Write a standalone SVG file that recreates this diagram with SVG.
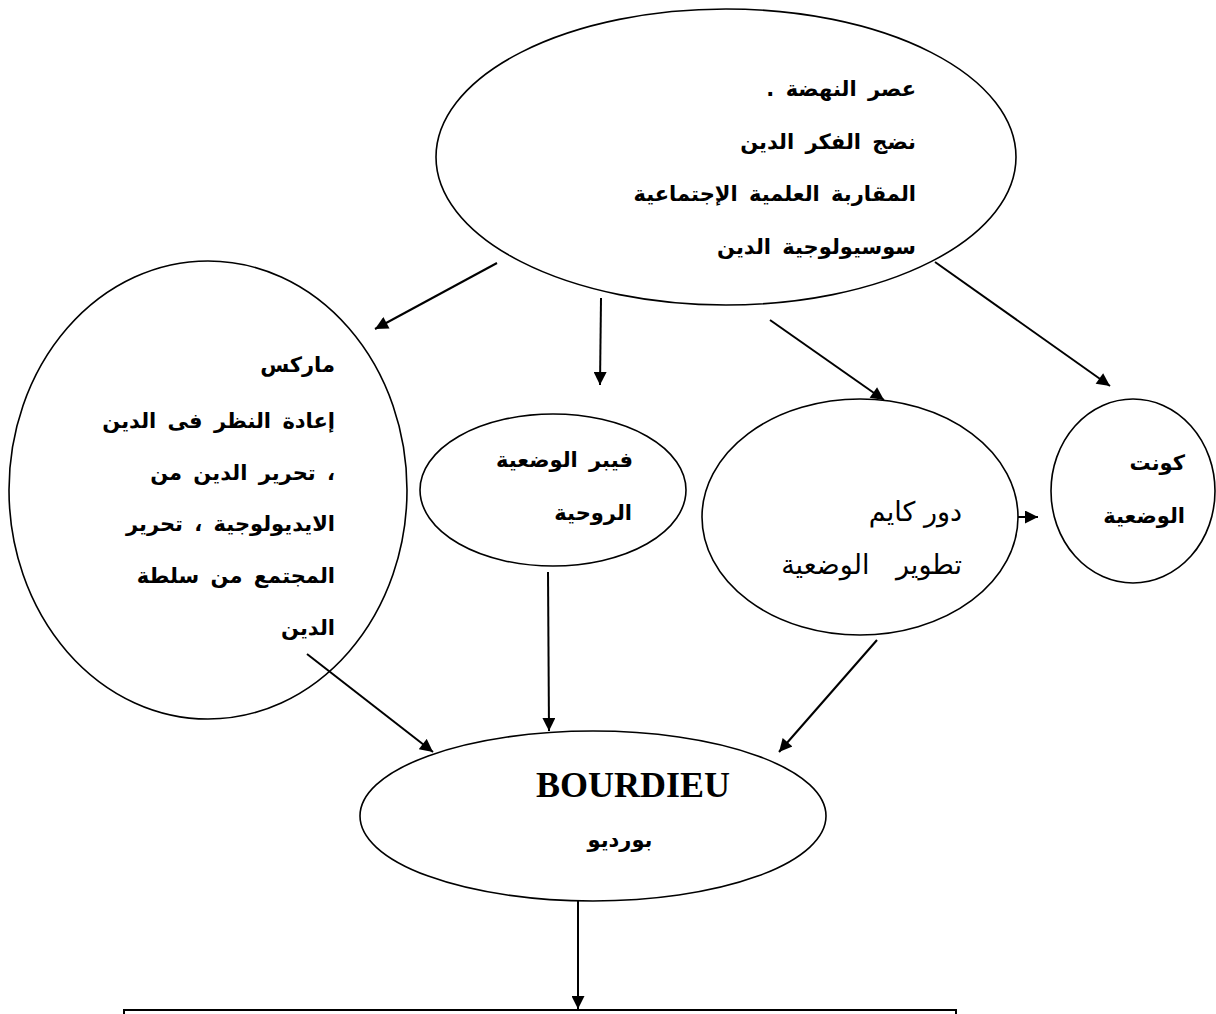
<svg xmlns="http://www.w3.org/2000/svg" width="1216" height="1014" viewBox="0 0 1216 1014">
<style>
.node{fill:#fff;stroke:#000;stroke-width:1.6}
.ar{font-family:"DejaVu Sans","Noto Sans",sans-serif;font-size:21px;font-weight:bold;fill:#000;word-spacing:4px}
.arr{font-family:"DejaVu Sans","Noto Sans",sans-serif;font-size:27px;fill:#000}
.en{font-family:"Liberation Serif","Times New Roman",serif;font-size:36px;font-weight:bold;fill:#000}
.edge{stroke:#000;stroke-width:2;fill:none;marker-end:url(#ah)}
</style>
<defs>
<marker id="ah" viewBox="0 0 10 10" refX="10" refY="5" markerUnits="userSpaceOnUse" markerWidth="15" markerHeight="13" orient="auto">
<path d="M0,0 L10,5 L0,10 z" fill="#000"/>
</marker>
</defs>
<rect width="1216" height="1014" fill="#fff"/>
<g id="n-top">
<ellipse class="node" cx="726" cy="157" rx="290" ry="148"/>
<text class="ar" direction="rtl" text-anchor="start" x="916" y="96">عصر  النهضة .</text>
<text class="ar" direction="rtl" text-anchor="start" x="916" y="149">نضج الفكر الدين</text>
<text class="ar" direction="rtl" text-anchor="start" x="916" y="201">المقاربة العلمية الإجتماعية</text>
<text class="ar" direction="rtl" text-anchor="start" x="916" y="254">سوسيولوجية  الدين</text>
</g>
<g id="n-marx">
<ellipse class="node" cx="208" cy="490" rx="199" ry="229"/>
<text class="ar" direction="rtl" text-anchor="start" x="335" y="372">ماركس</text>
<text class="ar" direction="rtl" text-anchor="start" x="335" y="428">إعادة النظر فى الدين</text>
<text class="ar" direction="rtl" text-anchor="start" x="335" y="480">، تحرير الدين من</text>
<text class="ar" direction="rtl" text-anchor="start" x="335" y="531">الايديولوجية ، تحرير</text>
<text class="ar" direction="rtl" text-anchor="start" x="335" y="583">المجتمع من سلطة</text>
<text class="ar" direction="rtl" text-anchor="start" x="335" y="635">الدين</text>
</g>
<g id="n-weber">
<ellipse class="node" cx="553" cy="490" rx="133" ry="76"/>
<text class="ar" direction="rtl" text-anchor="start" x="633" y="467">فيبر  الوضعية</text>
<text class="ar" direction="rtl" text-anchor="start" x="632" y="520">الروحية</text>
</g>
<g id="n-durkheim">
<ellipse class="node" cx="860" cy="517" rx="158" ry="118"/>
<text class="arr" direction="rtl" text-anchor="start" x="962" y="521">دور كايم</text>
<text class="arr" direction="rtl" text-anchor="start" x="962" y="574" word-spacing="18">تطوير الوضعية</text>
</g>
<g id="n-comte">
<ellipse class="node" cx="1133" cy="491" rx="82" ry="92"/>
<text class="ar" direction="rtl" text-anchor="start" x="1185" y="470">كونت</text>
<text class="ar" direction="rtl" text-anchor="start" x="1185" y="523">الوضعية</text>
</g>
<g id="n-bourdieu">
<ellipse class="node" cx="593" cy="816" rx="233" ry="85"/>
<text class="en" x="633" y="797" text-anchor="middle">BOURDIEU</text>
<text class="ar" direction="rtl" text-anchor="middle" x="620" y="847">بورديو</text>
</g>
<g id="n-bottom">
<rect x="124" y="1010" width="832" height="30" fill="#fff" stroke="#000" stroke-width="2"/>
</g>
<g id="connectors">
<line class="edge" x1="497" y1="263" x2="375" y2="329"/>
<line class="edge" x1="601" y1="298" x2="600" y2="385"/>
<line class="edge" x1="770" y1="320" x2="884" y2="400"/>
<line class="edge" x1="935" y1="262" x2="1110" y2="386"/>
<line class="edge" x1="1018" y1="517" x2="1038" y2="517"/>
<line class="edge" x1="307" y1="654" x2="433" y2="752"/>
<line class="edge" x1="548" y1="572" x2="549" y2="731"/>
<line class="edge" x1="877" y1="640" x2="779" y2="752"/>
<line class="edge" x1="578" y1="901" x2="578" y2="1009"/>
</g>
</svg>
